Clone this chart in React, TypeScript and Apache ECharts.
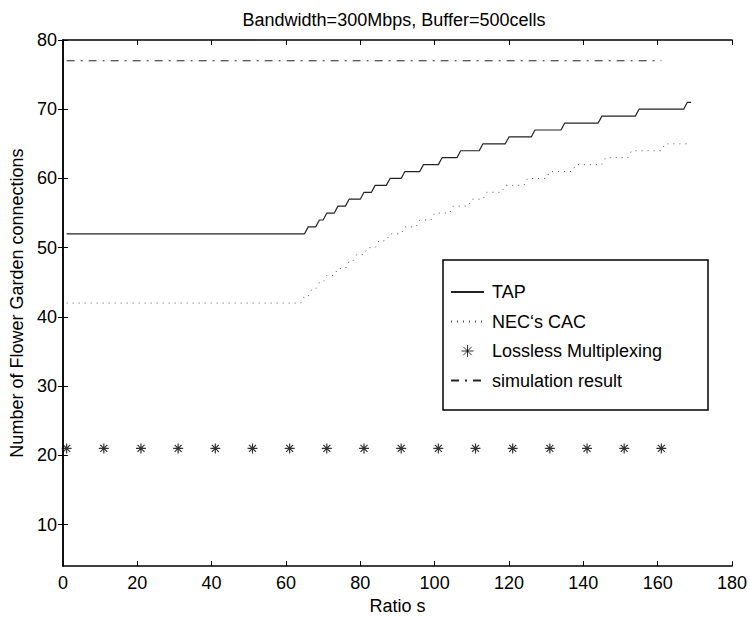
import React, { useEffect, useRef } from "react";
import * as echarts from "echarts";

// Ratio s axis and number-of-connections axis
const xTicks = [0, 20, 40, 60, 80, 100, 120, 140, 160, 180];
const yTicks = [10, 20, 30, 40, 50, 60, 70, 80];

// Each run: [first s, last s, admitted connections]
const tapSteps: [number, number, number][] = [
  [1, 65, 52],
  [66, 68, 53],
  [69, 70, 54],
  [71, 73, 55],
  [74, 76, 56],
  [77, 80, 57],
  [81, 83, 58],
  [84, 87, 59],
  [88, 91, 60],
  [92, 96, 61],
  [97, 101, 62],
  [102, 106, 63],
  [107, 112, 64],
  [113, 119, 65],
  [120, 126, 66],
  [127, 134, 67],
  [135, 144, 68],
  [145, 154, 69],
  [155, 167, 70],
  [168, 169, 71],
];

const necSteps: [number, number, number][] = [
  [1, 64, 42],
  [65, 66, 43],
  [67, 68, 44],
  [69, 70, 45],
  [71, 73, 46],
  [74, 76, 47],
  [77, 78, 48],
  [79, 81, 49],
  [82, 84, 50],
  [85, 87, 51],
  [88, 91, 52],
  [92, 95, 53],
  [96, 99, 54],
  [100, 104, 55],
  [105, 109, 56],
  [110, 113, 57],
  [114, 118, 58],
  [119, 124, 59],
  [125, 130, 60],
  [131, 137, 61],
  [138, 145, 62],
  [146, 152, 63],
  [153, 161, 64],
  [162, 168, 65],
];

const losslessS = [1, 11, 21, 31, 41, 51, 61, 71, 81, 91, 101, 111, 121, 131, 141, 151, 161];
const losslessValue = 21;

const simulationS = [1, 161];
const simulationValue = 77;

const FONT = '"Liberation Sans", Arial, Helvetica, sans-serif';
const FS = 18;
const STAR = "path://M0,5L10,5M5,0L5,10M1.5,1.5L8.5,8.5M8.5,1.5L1.5,8.5";

const runsToPoints = (runs: [number, number, number][]) =>
  runs.flatMap(([a, b, v]) => (a === b ? [[a, v]] : [[a, v], [b, v]]));

// legend entries for line series show only the line sample
const noMarker = { color: "transparent", borderColor: "transparent", borderWidth: 0 };

export default function App() {
  const ref = useRef<HTMLDivElement>(null);

  useEffect(() => {
    if (!ref.current) return;
    const chart = echarts.init(ref.current, null, { renderer: "svg" });

    const axisLine = { show: true, lineStyle: { color: "#000", width: 1.5 } };
    const tick = { show: true, inside: true, length: 5, lineStyle: { color: "#000", width: 1 } };

    chart.setOption({
      animation: false,
      backgroundColor: "#fff",
      textStyle: { fontFamily: FONT },
      grid: { left: 56, right: 18, top: 40, bottom: 48, containLabel: false },
      xAxis: [
        {
          type: "value",
          min: xTicks[0],
          max: xTicks[xTicks.length - 1],
          interval: 20,
          position: "bottom",
          name: "Ratio s",
          nameLocation: "middle",
          nameGap: 28,
          nameTextStyle: { color: "#000", fontSize: FS, fontFamily: FONT },
          axisLine,
          axisTick: tick,
          axisLabel: { color: "#000", fontSize: FS, margin: 8, fontFamily: FONT },
          splitLine: { show: false },
        },
        {
          type: "value",
          min: xTicks[0],
          max: xTicks[xTicks.length - 1],
          interval: 20,
          position: "top",
          axisLine,
          axisTick: tick,
          axisLabel: { show: false },
          splitLine: { show: false },
        },
      ],
      yAxis: [
        {
          type: "value",
          min: 4,
          max: 80,
          position: "left",
          name: "Number of Flower Garden connections",
          nameLocation: "middle",
          nameRotate: 90,
          nameGap: 29,
          nameTextStyle: { color: "#000", fontSize: FS, fontFamily: FONT },
          axisLine,
          axisTick: { ...tick, customValues: yTicks },
          axisLabel: { color: "#000", fontSize: FS, margin: 6, fontFamily: FONT, customValues: yTicks },
          splitLine: { show: false },
        },
        {
          type: "value",
          min: 4,
          max: 80,
          position: "right",
          axisLine,
          axisTick: { ...tick, customValues: yTicks },
          axisLabel: { show: false, customValues: yTicks },
          splitLine: { show: false },
        },
      ],
      legend: {
        orient: "vertical",
        left: 450,
        top: 282,
        padding: 0,
        itemWidth: 33,
        itemHeight: 12,
        itemGap: 9.5,
        textStyle: { color: "#000", fontSize: FS, lineHeight: 20, fontFamily: FONT, padding: [0, 0, 0, 3] },
        data: [
          { name: "TAP", itemStyle: noMarker },
          { name: "NEC‘s CAC", itemStyle: noMarker },
          { name: "Lossless Multiplexing", itemStyle: { borderWidth: 1 } },
          { name: "simulation result", itemStyle: noMarker },
        ],
      },
      graphic: [
        {
          type: "rect",
          shape: { x: 443, y: 260, width: 265, height: 150 },
          style: { fill: "#fff", stroke: "#000", lineWidth: 1.5 },
          z: 0,
        },
        {
          type: "text",
          x: 394,
          y: 20,
          style: {
            text: "Bandwidth=300Mbps, Buffer=500cells",
            fontSize: FS,
            fontFamily: FONT,
            fill: "#000",
            align: "center",
            verticalAlign: "middle",
          },
        },
      ],
      series: [
        {
          name: "TAP",
          type: "line",
          symbol: "none",
          data: runsToPoints(tapSteps),
          lineStyle: { color: "#222", width: 1.2 },
          itemStyle: { color: "#222" },
          z: 3,
        },
        {
          name: "NEC‘s CAC",
          type: "line",
          symbol: "none",
          data: runsToPoints(necSteps),
          lineStyle: { color: "#555", width: 1, type: [1, 5] },
          itemStyle: { color: "#555" },
          z: 3,
        },
        {
          name: "Lossless Multiplexing",
          type: "scatter",
          symbol: STAR,
          symbolSize: 10,
          data: losslessS.map((s) => [s, losslessValue]),
          itemStyle: { color: "transparent", borderColor: "#000", borderWidth: 1.2 },
          z: 3,
        },
        {
          name: "simulation result",
          type: "line",
          symbol: "none",
          data: simulationS.map((s) => [s, simulationValue]),
          lineStyle: { color: "#222", width: 1, type: [8, 6, 2, 6] },
          itemStyle: { color: "#222" },
          z: 3,
        },
      ],
    });

    return () => chart.dispose();
  }, []);

  return (
    <div
      ref={ref}
      style={{ position: "fixed", left: 0, top: 0, width: 750, height: 620, background: "#fff" }}
    />
  );
}
